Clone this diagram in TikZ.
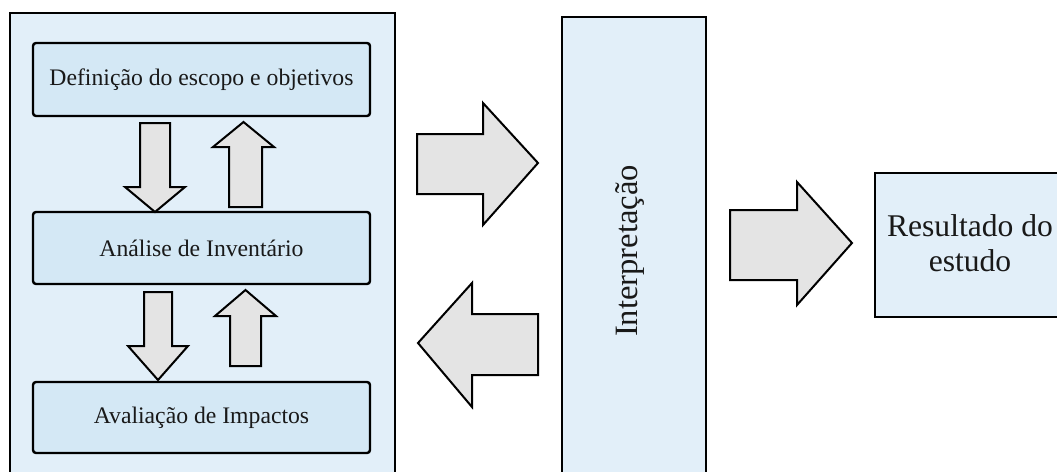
\documentclass[tikz,border=0pt]{standalone}
\usepackage{fontspec}
\setmainfont{Liberation Serif}
\begin{document}
\begin{tikzpicture}[x=0.5pt,y=-0.5pt,
  outerbox/.style={draw=black, line width=1pt, fill=outerblue},
  innerbox/.style={draw=black, line width=1.2pt, fill=innerblue, rounded corners=1.5pt},
  barrow/.style={draw=black, line width=1pt, fill=arrowgray, line join=miter},
  smalltext/.style={font=\fontsize{11.85}{13}\selectfont, text=black!90},
  bigtext/.style={font=\fontsize{15.8}{17.5}\selectfont, text=black!90, align=center}]
\definecolor{outerblue}{HTML}{E2EFF9}
\definecolor{innerblue}{HTML}{D4E8F5}
\definecolor{arrowgray}{HTML}{E4E4E4}
\useasboundingbox (0,0) rectangle (1057,472);
\fill[white] (0,0) rectangle (1057,472);
% outer container
\draw[outerbox] (10,490) -- (10,13) -- (395,13) -- (395,490);
% inner boxes
\draw[innerbox] (33,43) rectangle (370,116);
\node[smalltext] (def) at (201.5,79.5) {Definição do escopo e objetivos};
\draw[innerbox] (33,212) rectangle (370,284);
\node[smalltext] (inv) at (201.5,248) {Análise de Inventário};
\draw[innerbox] (33,382) rectangle (370,453);
\node[smalltext] (imp) at (201.5,417.5) {Avaliação de Impactos};
% vertical arrows
\draw[barrow] (140,123) -- (170,123) -- (170,187) -- (185,187) -- (155,212) -- (125,187) -- (140,187) -- cycle;
\draw[barrow] (229,207) -- (262,207) -- (262,147) -- (274,147) -- (243.5,122) -- (213,147) -- (229,147) -- cycle;
\draw[barrow] (144,292) -- (172,292) -- (172,346) -- (188,346) -- (158,380) -- (128,346) -- (144,346) -- cycle;
\draw[barrow] (230,366) -- (261,366) -- (261,316) -- (276,316) -- (245.5,290) -- (215,316) -- (230,316) -- cycle;
% interpretation box
\draw[outerbox] (562,490) -- (562,17) -- (706,17) -- (706,490);
\node[bigtext, font=\fontsize{16.3}{18}\selectfont, rotate=90] (interp) at (630,251) {Interpretação};
% horizontal arrows
\draw[barrow] (417,134) -- (483,134) -- (483,103) -- (538,163) -- (483,225) -- (483,194) -- (417,194) -- cycle;
\draw[barrow] (538,314) -- (472,314) -- (472,283) -- (418,343) -- (472,407) -- (472,375) -- (538,375) -- cycle;
\draw[barrow] (730,210) -- (797,210) -- (797,182) -- (852,243) -- (797,305) -- (797,280) -- (730,280) -- cycle;
% result box
\draw[outerbox] (1080,173) -- (875,173) -- (875,317) -- (1080,317);
\node[bigtext] (res) at (970,243) {Resultado do\\estudo};
\end{tikzpicture}
\end{document}
